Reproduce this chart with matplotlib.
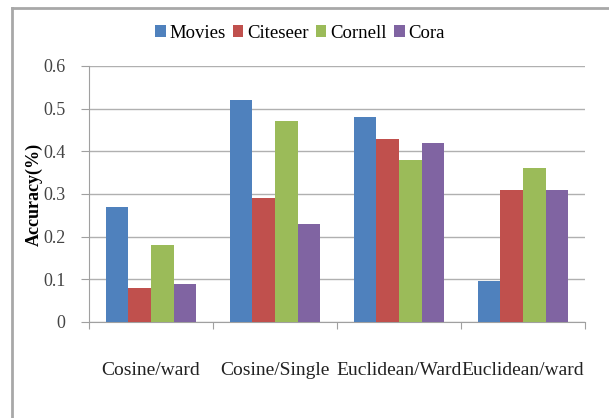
import matplotlib
matplotlib.use("Agg")
import matplotlib.pyplot as plt
import numpy as np
from matplotlib.lines import Line2D

categories = ['Cosine/ward', 'Cosine/Single', 'Euclidean/Ward', 'Euclidean/ward']
series = ['Movies', 'Citeseer', 'Cornell', 'Cora']
movies = [0.27, 0.52, 0.48, 0.095]
citeseer = [0.08, 0.29, 0.43, 0.31]
cornell = [0.18, 0.47, 0.38, 0.36]
cora = [0.09, 0.23, 0.42, 0.31]
colors = ['#4F81BD', '#C0504D', '#9BBB59', '#8064A2']

plt.rcParams['font.family'] = ['Liberation Serif', 'DejaVu Serif']

fig = plt.figure(figsize=(6.09, 4.18), dpi=100)
ax = fig.add_axes([89/609, 1-322/418, (585-89)/609, (322-66)/418])

x = np.arange(len(categories))
w = 0.183
for i, (vals, name) in enumerate(zip([movies, citeseer, cornell, cora], series)):
    ax.bar(x + (i - 1.5) * w, vals, w, color=colors[i], label=name, zorder=3)

ax.set_xlim(-0.5, 3.5)
ax.set_ylim(0, 0.6)
ax.set_yticks([0, 0.1, 0.2, 0.3, 0.4, 0.5, 0.6])
ax.set_yticklabels(['0', '0.1', '0.2', '0.3', '0.4', '0.5', '0.6'])
ax.yaxis.grid(True, color='#b0b0b0', lw=1, zorder=0)
ax.tick_params(axis='y', length=6, color='#a0a0a0', labelsize=13, labelcolor='#444444', pad=11)

# boundaries as major ticks, labels on minor ticks
ax.set_xticks(np.arange(-0.5, 4, 1))
ax.set_xticklabels([])
ax.set_xticks(x, minor=True)
ax.set_xticklabels(categories, minor=True)
ax.tick_params(axis='x', which='major', length=5, color='#a0a0a0')
ax.tick_params(axis='x', which='minor', length=0, pad=29, labelsize=14, labelcolor='#222222')

for s in ['top', 'right']:
    ax.spines[s].set_visible(False)
for s in ['left', 'bottom']:
    ax.spines[s].set_color('#a0a0a0')

ax.set_ylabel('Accuracy(%)', fontweight='bold', fontsize=13, labelpad=0)

fig.legend(loc='center', bbox_to_anchor=(300/609, 1-33/418), ncol=4, frameon=False,
           fontsize=13.5, handlelength=0.55, handleheight=0.55, handletextpad=0.2,
           columnspacing=0.4)

# outer frame (cut off at right and bottom)
fig.add_artist(Line2D([12/609, 12/609], [0, 1-8/418], transform=fig.transFigure, color='#a8a8a8', lw=2))
fig.add_artist(Line2D([12/609, 1], [1-8/418, 1-8/418], transform=fig.transFigure, color='#a8a8a8', lw=2))

fig.savefig('out.png', dpi=100)
